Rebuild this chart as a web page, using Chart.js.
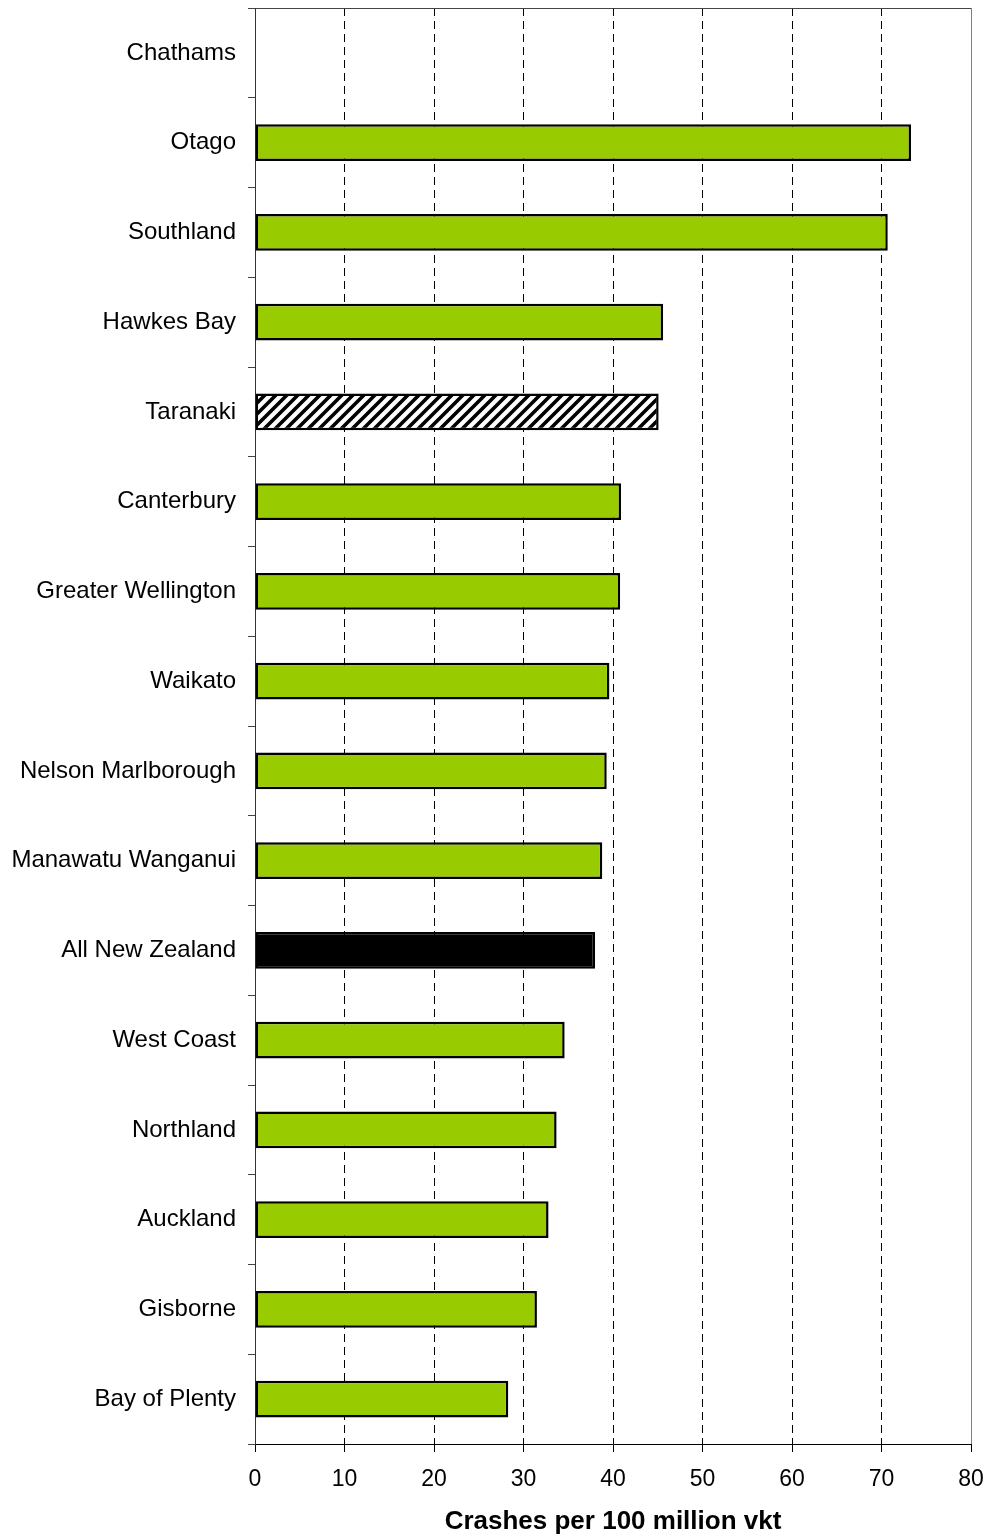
<!DOCTYPE html>
<html>
<head>
<meta charset="utf-8">
<script src="https://cdn.jsdelivr.net/npm/chart.js@4.4.0/dist/chart.umd.min.js"></script>
<style>
  html, body { margin: 0; padding: 0; background: #fff; }
  #wrap { width: 987px; height: 1537px; }
</style>
</head>
<body>
<div id="wrap"><canvas id="crashChart" width="987" height="1537"></canvas></div>
<script>
  /* ── Data ── */
  const regions = [
    'Chathams', 'Otago', 'Southland', 'Hawkes Bay', 'Taranaki', 'Canterbury',
    'Greater Wellington', 'Waikato', 'Nelson Marlborough', 'Manawatu Wanganui',
    'All New Zealand', 'West Coast', 'Northland', 'Auckland', 'Gisborne', 'Bay of Plenty'
  ];
  const crashRates = [null, 73.3, 70.7, 45.6, 45.1, 40.9, 40.8, 39.6, 39.3, 38.8, 38.0, 34.6, 33.7, 32.8, 31.5, 28.3];
  const xTicks = [0, 10, 20, 30, 40, 50, 60, 70, 80];
  const xTitle = 'Crashes per 100 million vkt';

  /* ── Hatch pattern for Taranaki ── */
  function hatch() {
    const s = 11;
    const c = document.createElement('canvas');
    c.width = s; c.height = s;
    const g = c.getContext('2d');
    g.fillStyle = '#fff';
    g.fillRect(0, 0, s, s);
    g.strokeStyle = '#000';
    g.lineWidth = 3.6;
    g.beginPath();
    g.moveTo(-2, s + 2); g.lineTo(s + 2, -2);
    g.moveTo(-2, 2); g.lineTo(2, -2);
    g.moveTo(s - 2, s + 2); g.lineTo(s + 2, s - 2);
    g.stroke();
    return g.createPattern(c, 'repeat');
  }
  const stripes = hatch();

  const fills = regions.map(r =>
    r === 'All New Zealand' ? '#000000' : r === 'Taranaki' ? stripes : '#99CC00'
  );

  const font = "'Liberation Sans', Arial, sans-serif";

  new Chart(document.getElementById('crashChart'), {
    type: 'bar',
    data: {
      labels: regions,
      datasets: [{
        data: crashRates,
        backgroundColor: fills,
        borderColor: '#000',
        borderWidth: 2.5,
        borderSkipped: false,
        categoryPercentage: 1,
        barPercentage: 0.41,
      }],
    },
    options: {
      indexAxis: 'y',
      responsive: false,
      animation: false,
      events: [],
      layout: { padding: { top: 8, right: 16, left: 0, bottom: 0 } },
      plugins: { legend: { display: false }, tooltip: { enabled: false } },
      scales: {
        x: {
          min: 0, max: 80,
          afterBuildTicks: s => { s.ticks = xTicks.map(v => ({ value: v })); },
          afterFit: s => { s.height = 93; s.paddingLeft = 0; s.paddingRight = 0; },
          grid: {
            color: c => (c.tick && c.tick.value === 80) ? '#808080' : '#000',
            lineWidth: 1,
            tickLength: 8,
            tickColor: '#000',
          },
          border: {
            color: '#000', width: 1,
            dash: c => (c.tick && c.tick.value > 0 && c.tick.value < 80) ? [8, 5] : [],
          },
          ticks: { color: '#000', font: { family: font, size: 23 }, padding: 14, maxRotation: 0 },
          title: {
            display: true, text: xTitle, color: '#000',
            font: { family: font, size: 26, weight: 'bold' },
            padding: { top: 4, bottom: 0 },
          },
        },
        y: {
          afterFit: s => { s.width = 255; s.paddingTop = 0; s.paddingBottom = 0; },
          grid: {
            offset: true,
            drawOnChartArea: true,
            color: c => c.index === 0 ? '#444' : 'rgba(0,0,0,0)',
            tickColor: '#444',
            tickLength: 7,
          },
          border: { color: '#333', width: 1 },
          ticks: { color: '#000', font: { family: font, size: 24 }, padding: 12, autoSkip: false },
        },
      },
    },
  });
</script>
</body>
</html>
